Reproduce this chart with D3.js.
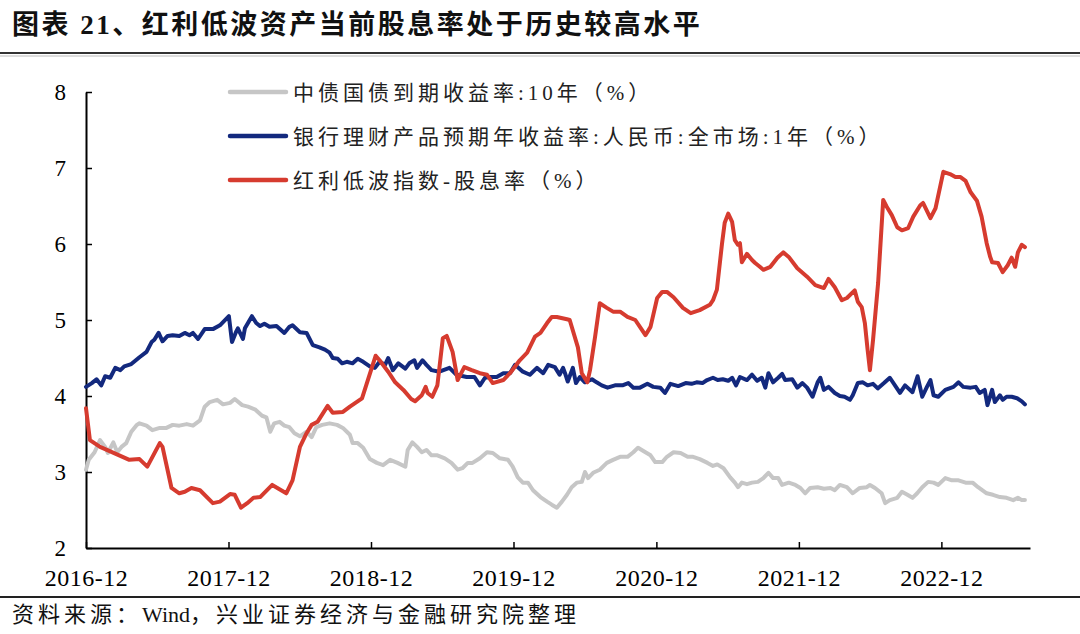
<!DOCTYPE html>
<html>
<head>
<meta charset="utf-8">
<script src="https://cdn.jsdelivr.net/npm/d3@7"></script>
<style>
  body { margin: 0; background: #fff; }
  svg text { font-family: "Liberation Serif", "Noto Sans CJK SC", serif; }
</style>
</head>
<body>
<div id="chart-container"></div>
<script>
// 中债国债到期收益率:10年
const bondYield = [
  ["2016-12-01", 3.03], ["2016-12-08", 3.16], ["2016-12-23", 3.26], ["2017-01-06", 3.42],
  ["2017-01-19", 3.33], ["2017-01-26", 3.25], ["2017-02-09", 3.39], ["2017-02-19", 3.26],
  ["2017-03-02", 3.33], ["2017-03-14", 3.38], ["2017-03-27", 3.53], ["2017-04-10", 3.62],
  ["2017-04-17", 3.64], ["2017-05-05", 3.61], ["2017-05-20", 3.55], ["2017-06-08", 3.58],
  ["2017-06-25", 3.58], ["2017-07-11", 3.62], ["2017-07-28", 3.61], ["2017-08-16", 3.63],
  ["2017-09-01", 3.61], ["2017-09-19", 3.68], ["2017-10-01", 3.86], ["2017-10-14", 3.92],
  ["2017-11-02", 3.95], ["2017-11-17", 3.89], ["2017-12-05", 3.91], ["2017-12-17", 3.96],
  ["2018-01-05", 3.88], ["2018-01-20", 3.86], ["2018-02-08", 3.82], ["2018-02-25", 3.74],
  ["2018-03-08", 3.72], ["2018-03-18", 3.53], ["2018-03-28", 3.64], ["2018-04-11", 3.66],
  ["2018-04-23", 3.61], ["2018-05-06", 3.59], ["2018-05-19", 3.51], ["2018-06-02", 3.47],
  ["2018-06-19", 3.53], ["2018-07-02", 3.46], ["2018-07-14", 3.59], ["2018-07-29", 3.62],
  ["2018-08-17", 3.64], ["2018-09-05", 3.62], ["2018-09-20", 3.58], ["2018-10-08", 3.49],
  ["2018-10-15", 3.38], ["2018-10-28", 3.38], ["2018-11-11", 3.32], ["2018-11-28", 3.17],
  ["2018-12-16", 3.12], ["2019-01-01", 3.09], ["2019-01-19", 3.16], ["2019-02-07", 3.12],
  ["2019-02-27", 3.07], ["2019-03-05", 3.29], ["2019-03-17", 3.39], ["2019-03-29", 3.33],
  ["2019-04-10", 3.26], ["2019-04-22", 3.29], ["2019-05-05", 3.22], ["2019-05-20", 3.22],
  ["2019-06-08", 3.18], ["2019-06-25", 3.12], ["2019-07-11", 3.03], ["2019-07-23", 3.05],
  ["2019-08-06", 3.12], ["2019-08-18", 3.12], ["2019-09-06", 3.18], ["2019-09-24", 3.26],
  ["2019-10-09", 3.25], ["2019-10-27", 3.18], ["2019-11-17", 3.16], ["2019-11-29", 3.07],
  ["2019-12-12", 2.93], ["2019-12-25", 2.86], ["2020-01-07", 2.86], ["2020-01-20", 2.76],
  ["2020-02-08", 2.67], ["2020-02-25", 2.61], ["2020-03-08", 2.57], ["2020-03-21", 2.53],
  ["2020-04-03", 2.61], ["2020-04-16", 2.70], ["2020-04-28", 2.80], ["2020-05-11", 2.86],
  ["2020-05-24", 2.87], ["2020-06-01", 3.00], ["2020-06-09", 2.92], ["2020-06-22", 2.99],
  ["2020-07-09", 3.03], ["2020-07-27", 3.12], ["2020-08-12", 3.16], ["2020-08-30", 3.20],
  ["2020-09-18", 3.20], ["2020-10-03", 3.26], ["2020-10-15", 3.32], ["2020-11-03", 3.26],
  ["2020-11-16", 3.22], ["2020-11-28", 3.13], ["2020-12-16", 3.13], ["2020-12-28", 3.20],
  ["2021-01-14", 3.26], ["2021-02-01", 3.25], ["2021-02-19", 3.20], ["2021-03-05", 3.20],
  ["2021-03-22", 3.17], ["2021-04-11", 3.12], ["2021-04-25", 3.08], ["2021-05-06", 3.10],
  ["2021-05-22", 3.05], ["2021-06-08", 2.93], ["2021-06-20", 2.86], ["2021-06-28", 2.80],
  ["2021-07-08", 2.86], ["2021-07-21", 2.84], ["2021-08-03", 2.86], ["2021-08-18", 2.87],
  ["2021-09-01", 2.92], ["2021-09-14", 2.99], ["2021-09-26", 2.92], ["2021-10-09", 2.92],
  ["2021-10-19", 2.83], ["2021-11-05", 2.86], ["2021-11-22", 2.83], ["2021-12-05", 2.79],
  ["2021-12-17", 2.72], ["2021-12-30", 2.79], ["2022-01-18", 2.80], ["2022-02-03", 2.78],
  ["2022-02-20", 2.79], ["2022-03-03", 2.76], ["2022-03-16", 2.83], ["2022-04-03", 2.80],
  ["2022-04-18", 2.72], ["2022-05-06", 2.79], ["2022-05-24", 2.80], ["2022-06-01", 2.83],
  ["2022-06-14", 2.79], ["2022-07-01", 2.72], ["2022-07-10", 2.59], ["2022-07-22", 2.63],
  ["2022-08-10", 2.66], ["2022-08-22", 2.74], ["2022-09-05", 2.70], ["2022-09-18", 2.66],
  ["2022-09-30", 2.72], ["2022-10-13", 2.80], ["2022-10-28", 2.87], ["2022-11-11", 2.86],
  ["2022-11-23", 2.83], ["2022-12-11", 2.92], ["2022-12-28", 2.89], ["2023-01-14", 2.89],
  ["2023-02-01", 2.86], ["2023-02-19", 2.86], ["2023-03-05", 2.80], ["2023-03-27", 2.72],
  ["2023-04-12", 2.70], ["2023-04-30", 2.67], ["2023-05-17", 2.66], ["2023-06-03", 2.63],
  ["2023-06-15", 2.66], ["2023-06-25", 2.63], ["2023-07-03", 2.63]
];

// 银行理财产品预期年收益率:人民币:全市场:1年
const wmpYield = [
  ["2016-12-01", 4.12], ["2016-12-16", 4.17], ["2016-12-28", 4.22], ["2017-01-09", 4.14],
  ["2017-01-19", 4.26], ["2017-02-01", 4.24], ["2017-02-14", 4.37], ["2017-02-27", 4.34],
  ["2017-03-09", 4.39], ["2017-03-27", 4.42], ["2017-04-17", 4.51], ["2017-05-05", 4.58],
  ["2017-05-18", 4.71], ["2017-05-25", 4.74], ["2017-06-05", 4.83], ["2017-06-15", 4.72],
  ["2017-06-28", 4.79], ["2017-07-11", 4.80], ["2017-07-28", 4.79], ["2017-08-11", 4.83],
  ["2017-08-23", 4.80], ["2017-09-01", 4.83], ["2017-09-14", 4.75], ["2017-10-01", 4.88],
  ["2017-10-22", 4.88], ["2017-11-09", 4.93], ["2017-12-02", 5.05], ["2017-12-10", 4.71],
  ["2017-12-20", 4.84], ["2017-12-25", 4.89], ["2018-01-07", 4.75], ["2018-01-12", 4.89],
  ["2018-01-30", 5.05], ["2018-02-10", 4.96], ["2018-02-20", 4.92], ["2018-03-03", 4.95],
  ["2018-03-16", 4.91], ["2018-04-03", 4.92], ["2018-04-23", 4.83], ["2018-05-06", 4.91],
  ["2018-05-14", 4.93], ["2018-06-02", 4.84], ["2018-06-19", 4.83], ["2018-07-05", 4.67],
  ["2018-07-22", 4.64], ["2018-08-05", 4.61], ["2018-08-17", 4.57], ["2018-08-25", 4.50],
  ["2018-09-07", 4.49], ["2018-09-18", 4.43], ["2018-09-30", 4.45], ["2018-10-15", 4.43],
  ["2018-10-28", 4.49], ["2018-11-11", 4.45], ["2018-11-28", 4.39], ["2018-12-11", 4.37],
  ["2018-12-23", 4.45], ["2019-01-06", 4.41], ["2019-01-14", 4.50], ["2019-01-26", 4.34],
  ["2019-02-09", 4.43], ["2019-02-27", 4.36], ["2019-03-09", 4.43], ["2019-03-22", 4.47],
  ["2019-03-29", 4.37], ["2019-04-12", 4.47], ["2019-04-22", 4.41], ["2019-05-05", 4.34],
  ["2019-05-25", 4.32], ["2019-06-20", 4.37], ["2019-07-08", 4.28], ["2019-08-03", 4.25],
  ["2019-08-23", 4.25], ["2019-09-06", 4.14], ["2019-09-19", 4.24], ["2019-10-01", 4.25],
  ["2019-10-19", 4.25], ["2019-11-05", 4.30], ["2019-11-22", 4.30], ["2019-12-05", 4.41],
  ["2019-12-25", 4.32], ["2020-01-12", 4.28], ["2020-01-30", 4.37], ["2020-02-15", 4.30],
  ["2020-02-28", 4.41], ["2020-03-16", 4.38], ["2020-03-28", 4.28], ["2020-04-06", 4.37],
  ["2020-04-11", 4.30], ["2020-04-18", 4.19], ["2020-05-01", 4.37], ["2020-05-09", 4.17],
  ["2020-05-19", 4.25], ["2020-06-01", 4.18], ["2020-06-19", 4.22], ["2020-07-01", 4.18],
  ["2020-07-14", 4.14], ["2020-07-29", 4.11], ["2020-08-17", 4.14], ["2020-09-05", 4.14],
  ["2020-09-20", 4.17], ["2020-10-03", 4.11], ["2020-10-20", 4.11], ["2020-11-08", 4.16],
  ["2020-11-23", 4.12], ["2020-12-11", 4.11], ["2020-12-23", 4.04], ["2021-01-06", 4.16],
  ["2021-01-26", 4.13], ["2021-02-14", 4.17], ["2021-03-01", 4.16], ["2021-03-14", 4.18],
  ["2021-03-29", 4.17], ["2021-04-10", 4.21], ["2021-04-25", 4.24], ["2021-05-07", 4.21],
  ["2021-05-20", 4.22], ["2021-06-03", 4.20], ["2021-06-13", 4.24], ["2021-06-23", 4.14],
  ["2021-07-03", 4.25], ["2021-07-21", 4.21], ["2021-08-03", 4.28], ["2021-08-16", 4.20],
  ["2021-08-28", 4.24], ["2021-09-06", 4.11], ["2021-09-14", 4.30], ["2021-09-26", 4.18],
  ["2021-10-09", 4.24], ["2021-10-19", 4.29], ["2021-10-27", 4.21], ["2021-11-14", 4.22],
  ["2021-11-27", 4.11], ["2021-12-10", 4.17], ["2021-12-22", 4.11], ["2022-01-05", 3.99],
  ["2022-01-18", 4.18], ["2022-01-25", 4.24], ["2022-02-03", 4.08], ["2022-02-15", 4.12],
  ["2022-03-03", 4.04], ["2022-03-16", 4.00], ["2022-03-28", 3.99], ["2022-04-11", 3.95],
  ["2022-04-18", 4.01], ["2022-05-01", 4.17], ["2022-05-14", 4.18], ["2022-05-26", 4.14],
  ["2022-06-09", 4.16], ["2022-06-21", 4.10], ["2022-07-07", 4.17], ["2022-07-22", 4.24],
  ["2022-08-17", 4.04], ["2022-08-30", 4.14], ["2022-09-18", 4.05], ["2022-10-01", 4.26],
  ["2022-10-13", 3.99], ["2022-10-25", 4.12], ["2022-11-03", 4.21], ["2022-11-11", 4.01],
  ["2022-11-23", 3.99], ["2022-12-11", 4.08], ["2023-01-01", 4.12], ["2023-01-14", 4.18],
  ["2023-01-26", 4.12], ["2023-02-14", 4.11], ["2023-02-27", 4.12], ["2023-03-09", 4.04],
  ["2023-03-22", 4.08], ["2023-03-29", 3.88], ["2023-04-10", 4.08], ["2023-04-17", 3.92],
  ["2023-04-30", 4.01], ["2023-05-07", 3.95], ["2023-05-17", 3.99], ["2023-05-30", 3.99],
  ["2023-06-13", 3.97], ["2023-06-25", 3.93], ["2023-07-03", 3.89]
];

// 红利低波指数-股息率
const dividendYield = [
  ["2016-12-01", 3.84], ["2016-12-11", 3.42], ["2017-01-06", 3.33], ["2017-03-22", 3.16],
  ["2017-04-17", 3.17], ["2017-05-07", 3.07], ["2017-06-08", 3.38], ["2017-06-15", 3.33],
  ["2017-07-08", 2.79], ["2017-07-28", 2.72], ["2017-08-11", 2.74], ["2017-08-28", 2.79],
  ["2017-09-19", 2.76], ["2017-10-22", 2.59], ["2017-11-09", 2.61], ["2017-12-05", 2.71],
  ["2017-12-17", 2.70], ["2018-01-02", 2.53], ["2018-01-18", 2.59], ["2018-02-03", 2.66],
  ["2018-02-20", 2.67], ["2018-03-23", 2.83], ["2018-04-28", 2.72], ["2018-05-14", 2.89],
  ["2018-06-02", 3.33], ["2018-06-19", 3.51], ["2018-07-02", 3.62], ["2018-07-17", 3.66],
  ["2018-08-12", 3.87], ["2018-08-25", 3.78], ["2018-09-20", 3.79], ["2018-10-08", 3.86],
  ["2018-11-08", 3.97], ["2018-12-13", 4.53], ["2018-12-23", 4.47], ["2019-01-14", 4.32],
  ["2019-02-01", 4.18], ["2019-02-22", 4.08], ["2019-03-14", 3.96], ["2019-03-24", 3.93],
  ["2019-04-10", 4.01], ["2019-04-20", 4.12], ["2019-04-25", 4.04], ["2019-05-07", 3.99],
  ["2019-05-20", 4.14], ["2019-06-03", 4.76], ["2019-06-13", 4.79], ["2019-06-28", 4.58],
  ["2019-07-11", 4.21], ["2019-07-28", 4.38], ["2019-08-16", 4.34], ["2019-09-06", 4.30],
  ["2019-09-24", 4.28], ["2019-10-09", 4.17], ["2019-11-05", 4.21], ["2019-11-22", 4.30],
  ["2019-12-17", 4.47], ["2020-01-05", 4.57], ["2020-01-25", 4.78], ["2020-02-08", 4.83],
  ["2020-02-25", 4.96], ["2020-03-08", 5.04], ["2020-03-21", 5.04], ["2020-04-16", 5.01],
  ["2020-04-23", 5.00], ["2020-05-14", 4.64], ["2020-05-24", 4.30], ["2020-06-07", 4.18],
  ["2020-06-14", 4.34], ["2020-06-27", 4.78], ["2020-07-09", 5.22], ["2020-07-27", 5.16],
  ["2020-08-12", 5.11], ["2020-08-30", 5.11], ["2020-09-18", 5.04], ["2020-10-08", 5.00],
  ["2020-10-25", 4.87], ["2020-11-03", 4.80], ["2020-11-16", 4.91], ["2020-12-03", 5.29],
  ["2020-12-16", 5.37], ["2020-12-28", 5.37], ["2021-01-14", 5.30], ["2021-02-07", 5.16],
  ["2021-02-27", 5.09], ["2021-03-22", 5.13], ["2021-04-17", 5.20], ["2021-04-25", 5.26],
  ["2021-05-05", 5.40], ["2021-05-18", 6.00], ["2021-05-25", 6.28], ["2021-06-03", 6.40],
  ["2021-06-13", 6.29], ["2021-06-20", 6.05], ["2021-06-28", 5.99], ["2021-07-03", 6.01],
  ["2021-07-08", 5.76], ["2021-07-21", 5.87], ["2021-08-03", 5.79], ["2021-08-11", 5.75],
  ["2021-08-23", 5.70], ["2021-09-01", 5.66], ["2021-09-19", 5.70], ["2021-10-07", 5.82],
  ["2021-10-22", 5.89], ["2021-11-05", 5.83], ["2021-11-27", 5.68], ["2021-12-22", 5.57],
  ["2022-01-12", 5.46], ["2022-02-03", 5.42], ["2022-02-15", 5.54], ["2022-03-03", 5.43],
  ["2022-03-21", 5.26], ["2022-04-03", 5.29], ["2022-04-23", 5.39], ["2022-05-01", 5.24],
  ["2022-05-11", 5.17], ["2022-05-19", 4.96], ["2022-05-26", 4.61], ["2022-06-01", 4.34],
  ["2022-06-09", 4.74], ["2022-06-22", 5.49], ["2022-07-05", 6.58], ["2022-07-14", 6.49],
  ["2022-07-27", 6.38], ["2022-08-10", 6.22], ["2022-08-22", 6.18], ["2022-09-07", 6.21],
  ["2022-09-20", 6.36], ["2022-10-08", 6.51], ["2022-10-15", 6.54], ["2022-11-03", 6.34],
  ["2022-11-16", 6.47], ["2022-12-06", 6.95], ["2022-12-23", 6.92], ["2023-01-06", 6.88],
  ["2023-01-19", 6.88], ["2023-02-01", 6.83], ["2023-02-14", 6.68], ["2023-03-02", 6.57],
  ["2023-03-14", 6.36], ["2023-03-27", 6.01], ["2023-04-05", 5.83], ["2023-04-10", 5.76],
  ["2023-04-25", 5.75], ["2023-05-07", 5.63], ["2023-05-20", 5.72], ["2023-05-30", 5.82],
  ["2023-06-08", 5.70], ["2023-06-15", 5.89], ["2023-06-25", 5.99], ["2023-07-03", 5.96]
];

const seriesNames = [
  "中债国债到期收益率:10年（%）",
  "银行理财产品预期年收益率:人民币:全市场:1年（%）",
  "红利低波指数-股息率（%）"
];
const seriesColors = ["#c6c6c6", "#13297e", "#d63b2f"];

const xTickLabels = ["2016-12", "2017-12", "2018-12", "2019-12", "2020-12", "2021-12", "2022-12"];
const yTicks = [2, 3, 4, 5, 6, 7, 8];

const titleText = "图表 21、红利低波资产当前股息率处于历史较高水平";
// footer split so that the latin word keeps normal spacing
const sourceParts = ["资料来源：", "Wind", "，兴业证券经济与金融研究院整理"];

const W = 1080, H = 634;
const PLOT = { left: 86, right: 1030, top: 92, bottom: 548 };

const parseDate = d3.timeParse("%Y-%m-%d");
const parseMonth = d3.timeParse("%Y-%m");

const svg = d3.select("#chart-container").append("svg")
  .attr("width", W)
  .attr("height", H);

// title + rule
svg.append("text")
  .attr("x", 12)
  .attr("y", 34)
  .style("font-size", "27px")
  .style("font-weight", "bold")
  .style("letter-spacing", "2.5px")
  .style("fill", "#111")
  .text(titleText);

svg.append("line")
  .attr("x1", 0).attr("x2", W)
  .attr("y1", 53).attr("y2", 53)
  .attr("stroke", "#333").attr("stroke-width", 2);
svg.append("line")
  .attr("x1", 0).attr("x2", W)
  .attr("y1", 56).attr("y2", 56)
  .attr("stroke", "#bbb").attr("stroke-width", 1);

// source + rule
svg.append("line")
  .attr("x1", 0).attr("x2", W)
  .attr("y1", 597).attr("y2", 597)
  .attr("stroke", "#222").attr("stroke-width", 2);

svg.append("text")
  .attr("x", 12)
  .attr("y", 622)
  .style("font-size", "22px")
  .style("fill", "#111")
  .selectAll("tspan")
  .data(sourceParts)
  .join("tspan")
    .style("letter-spacing", (d, i) => i === 1 ? "0px" : "4px")
    .text(d => d);

// scales
const x = d3.scaleTime()
  .domain([parseDate("2016-12-01"), parseDate("2023-07-16")])
  .range([PLOT.left, PLOT.right]);

const y = d3.scaleLinear()
  .domain([2, 8])
  .range([PLOT.bottom, PLOT.top]);

// axes
const xAxis = d3.axisBottom(x)
  .tickValues(xTickLabels.map(parseMonth))
  .tickFormat(d3.timeFormat("%Y-%m"))
  .tickSizeInner(-6)
  .tickSizeOuter(0)
  .tickPadding(21);

const yAxis = d3.axisLeft(y)
  .tickValues(yTicks)
  .tickFormat(d3.format("d"))
  .tickSizeInner(-6)
  .tickSizeOuter(0)
  .tickPadding(20);

const xAxisGroup = svg.append("g")
  .attr("transform", `translate(0,${PLOT.bottom})`)
  .call(xAxis);

const yAxisGroup = svg.append("g")
  .attr("transform", `translate(${PLOT.left},0)`)
  .call(yAxis);

[xAxisGroup, yAxisGroup].forEach(g => {
  g.select(".domain").attr("stroke", "#000").attr("stroke-width", 2);
  g.selectAll(".tick line").attr("stroke", "#000").attr("stroke-width", 1.5);
  g.selectAll(".tick text")
    .style("font-family", "'Liberation Serif', serif")
    .style("font-size", "23px")
    .style("fill", "#000");
});

xAxisGroup.selectAll(".tick text")
  .style("font-size", "24px")
  .style("letter-spacing", "0.5px");

// lines
const line = d3.line()
  .x(d => x(parseDate(d[0])))
  .y(d => y(d[1]));

const allSeries = [bondYield, wmpYield, dividendYield];

svg.append("g")
  .selectAll("path")
  .data(allSeries)
  .join("path")
    .attr("d", line)
    .attr("fill", "none")
    .attr("stroke", (d, i) => seriesColors[i])
    .attr("stroke-width", 4)
    .attr("stroke-linejoin", "round")
    .attr("stroke-linecap", "round");

// legend
const legendY = [92, 136, 180];
const legend = svg.append("g")
  .selectAll("g")
  .data(seriesNames)
  .join("g")
    .attr("transform", (d, i) => `translate(230,${legendY[i]})`);

legend.append("line")
  .attr("x1", 0).attr("x2", 56)
  .attr("stroke", (d, i) => seriesColors[i])
  .attr("stroke-width", 4.5)
  .attr("stroke-linecap", "round");

legend.append("text")
  .attr("x", 63)
  .attr("dy", "0.36em")
  .style("font-size", "21px")
  .style("letter-spacing", "4px")
  .style("fill", "#222")
  .text(d => d);
</script>
</body>
</html>
